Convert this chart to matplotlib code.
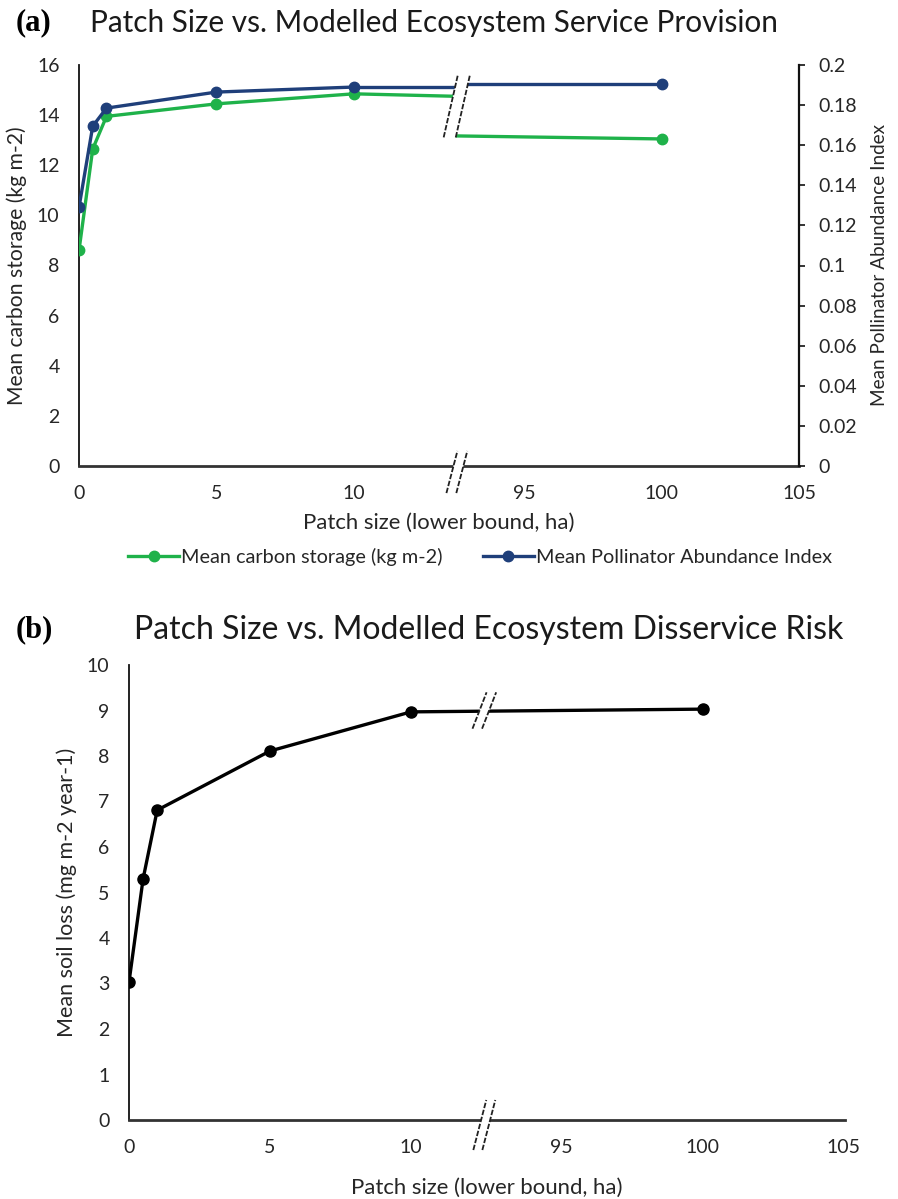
import matplotlib
matplotlib.use('Agg')
import matplotlib.pyplot as plt
from matplotlib.patches import Polygon
from matplotlib.transforms import blended_transform_factory

# --- Data ---
patch_size = [0, 0.5, 1, 5, 10, 100]
carbon = [8.6, 12.65, 13.95, 14.45, 14.85, 13.05]          # kg m-2
pollinator = [0.129, 0.1695, 0.1785, 0.1865, 0.189, 0.1905]  # index
soil_loss = [3.03, 5.3, 6.81, 8.11, 8.97, 9.03]             # mg m-2 year-1

x_ticks = [0, 5, 10, 95, 100, 105]
x_tick_labels = ['0', '5', '10', '95', '100', '105']

# --- Style ---
FONT = 'Lato'
COLOR_GREEN = '#1FB24A'
COLOR_BLUE = '#1F3F7A'
COLOR_TEXT = '#262626'
COLOR_AXIS = '#333333'
TICK_SIZE = 14
XLABEL_SIZE = 15.9
YLABEL_SIZE = 15.2

# broken-axis mapping: values above the break are shifted left
GAP_A = 6.2    # display units between 10 and 95 (panel a)
BREAK_A = 13.75
GAP_B = 5.34
BREAK_B = 12.6


def to_disp(x, gap):
    return x if x <= 10 else x - 95 + 10 + gap


def break_mark(ax, xc, yc, h, w, gap, lw=1.3):
    # two slanted dashed strokes with a white band between them
    tr = blended_transform_factory(ax.transData, ax.transAxes)
    dx = w / 2
    pts = [(xc - gap / 2 - dx, yc - h / 2), (xc + gap / 2 - dx, yc - h / 2),
           (xc + gap / 2 + dx, yc + h / 2), (xc - gap / 2 + dx, yc + h / 2)]
    ax.add_patch(Polygon(pts, closed=True, fc='white', ec='none',
                         transform=tr, zorder=20, clip_on=False))
    for off in (-gap / 2, gap / 2):
        ax.plot([xc + off - dx, xc + off + dx], [yc - h / 2, yc + h / 2],
                color='#222222', lw=lw, ls=(0, (3, 1)), transform=tr,
                zorder=21, clip_on=False, solid_capstyle='butt')


plt.rcParams['font.family'] = [FONT, 'DejaVu Sans']

fig = plt.figure(figsize=(8.98, 11.99), dpi=100)
fig.patch.set_facecolor('white')

# ================= Panel (a) =================
ax1 = fig.add_axes([79 / 898, 1 - 466 / 1199, 720 / 898, 401 / 1199])
ax2 = ax1.twinx()

xa = [to_disp(v, GAP_A) for v in patch_size]
left = slice(0, 5)

ax1.plot(xa[left], carbon[left], color=COLOR_GREEN, lw=2.4, marker='o',
         ms=7.5, label='Mean carbon storage (kg m-2)', zorder=3)
ax1.plot([xa[4], BREAK_A], [carbon[4], carbon[4] - 0.1], color=COLOR_GREEN, lw=2.4, zorder=3)
ax1.plot([BREAK_A, xa[5]], [carbon[5] + 0.12, carbon[5]], color=COLOR_GREEN, lw=2.4,
         marker='o', ms=7.5, markevery=[1], zorder=3)

ax2.plot(xa[left], pollinator[left], color=COLOR_BLUE, lw=2.4, marker='o',
         ms=7.5, label='Mean Pollinator Abundance Index', zorder=3)
ax2.plot([xa[4], BREAK_A], [pollinator[4], pollinator[4]], color=COLOR_BLUE, lw=2.4, zorder=3)
ax2.plot([BREAK_A, xa[5]], [pollinator[5], pollinator[5]], color=COLOR_BLUE, lw=2.4,
         marker='o', ms=7.5, markevery=[1], zorder=3)

ax1.set_xlim(0, to_disp(105, GAP_A))
ax1.set_ylim(0, 16)
ax2.set_ylim(0, 0.2)
ax1.set_yticks(range(0, 17, 2))
ax2.set_yticks([0, 0.02, 0.04, 0.06, 0.08, 0.1, 0.12, 0.14, 0.16, 0.18, 0.2])
ax2.set_yticklabels(['0', '0.02', '0.04', '0.06', '0.08', '0.1', '0.12', '0.14',
                     '0.16', '0.18', '0.2'])
ax1.set_xticks([to_disp(v, GAP_A) for v in x_ticks])
ax1.set_xticklabels(x_tick_labels)

for sp in ['top']:
    ax1.spines[sp].set_visible(False)
    ax2.spines[sp].set_visible(False)
ax2.spines['left'].set_visible(False)
ax2.spines['bottom'].set_visible(False)
ax1.spines['right'].set_visible(False)
ax1.spines['left'].set_color('#111111')
ax1.spines['bottom'].set_color(COLOR_AXIS)
ax1.spines['bottom'].set_linewidth(2)
ax1.spines['left'].set_linewidth(1.3)
ax2.spines['right'].set_color('#111111')
ax2.spines['right'].set_linewidth(1.6)

ax1.tick_params(axis='y', length=0, pad=14, labelsize=TICK_SIZE, labelcolor=COLOR_TEXT)
ax1.tick_params(axis='x', length=0, pad=14, labelsize=TICK_SIZE, labelcolor=COLOR_TEXT)
ax2.tick_params(axis='y', length=4, width=1.2, direction='out', pad=10,
                labelsize=TICK_SIZE, labelcolor=COLOR_TEXT, color='#111111')

ax1.set_ylabel('Mean carbon storage (kg m-2)', fontsize=YLABEL_SIZE, color=COLOR_TEXT)
ax1.yaxis.set_label_coords(-0.072, 0.5)
ax2.set_ylabel('Mean Pollinator Abundance Index', fontsize=13.6, color=COLOR_TEXT)
ax2.yaxis.set_label_coords(1.1, 0.5)
ax1.set_xlabel('Patch size (lower bound, ha)', fontsize=XLABEL_SIZE, color=COLOR_TEXT)
ax1.xaxis.set_label_coords(0.5, -0.118)

# break marks
break_mark(ax2, BREAK_A, 0.898, 0.157, 0.52, 0.44)
break_mark(ax2, BREAK_A, -0.015, 0.105, 0.40, 0.36)

h1, l1 = ax1.get_legend_handles_labels()
h2, l2 = ax2.get_legend_handles_labels()
fig.legend(h1 + h2, l1 + l2, loc='center', bbox_to_anchor=(480 / 898, 1 - 557 / 1199),
           ncol=2, frameon=False, fontsize=14.3, handlelength=2.6,
           columnspacing=2.0, handletextpad=0.1, labelcolor=COLOR_TEXT)

fig.text(16 / 898, 1 - 23 / 1199, '(a)', family='Liberation Serif', weight='bold',
         fontsize=22, ha='left', va='center')
fig.text(434 / 898, 1 - 23 / 1199, 'Patch Size vs. Modelled Ecosystem Service Provision',
         fontsize=21.4, ha='center', va='center', color='#1a1a1a')

# ================= Panel (b) =================
axb = fig.add_axes([129 / 898, 1 - 1120 / 1199, 716 / 898, 455 / 1199])
xb = [to_disp(v, GAP_B) for v in patch_size]
axb.plot(xb, soil_loss, color='black', lw=2.4, marker='o', ms=8, zorder=3)
axb.set_xlim(0, to_disp(105, GAP_B) + 0.05)
axb.set_ylim(0, 10)
axb.set_yticks(range(0, 11))
axb.set_xticks([to_disp(v, GAP_B) for v in x_ticks])
axb.set_xticklabels(x_tick_labels)
for sp in ['top', 'right']:
    axb.spines[sp].set_visible(False)
axb.spines['left'].set_color('#111111')
axb.spines['left'].set_linewidth(1.3)
axb.spines['bottom'].set_color(COLOR_AXIS)
axb.spines['bottom'].set_linewidth(2)
axb.tick_params(axis='both', length=0, pad=14, labelsize=TICK_SIZE, labelcolor=COLOR_TEXT)
axb.set_ylabel('Mean soil loss (mg m-2 year-1)', fontsize=YLABEL_SIZE + 0.3, color=COLOR_TEXT)
axb.yaxis.set_label_coords(-0.0726, 0.5)
axb.set_xlabel('Patch size (lower bound, ha)', fontsize=XLABEL_SIZE, color=COLOR_TEXT)
axb.xaxis.set_label_coords(0.5, -0.127)

break_mark(axb, BREAK_B, 0.9, 0.08, 0.5, 0.34)
break_mark(axb, BREAK_B, -0.011, 0.11, 0.46, 0.32)

fig.text(16 / 898, 1 - 630 / 1199, '(b)', family='Liberation Serif', weight='bold',
         fontsize=22, ha='left', va='center')
fig.text(489 / 898, 1 - 630 / 1199, 'Patch Size vs. Modelled Ecosystem Disservice Risk',
         fontsize=23, ha='center', va='center', color='#1a1a1a')

fig.savefig('out.png', dpi=100)
